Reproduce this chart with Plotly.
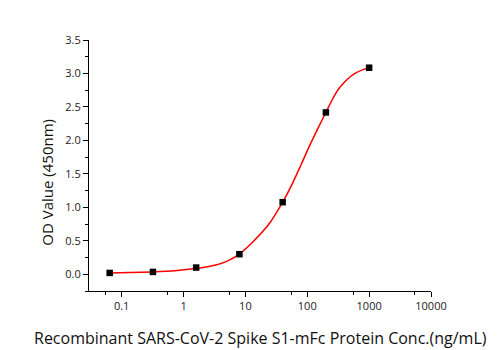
import plotly.graph_objects as go

# Data points (5-fold dilution series)
conc = [0.064, 0.32, 1.6, 8, 40, 200, 1000]
od = [0.02, 0.035, 0.10, 0.30, 1.077, 2.418, 3.086]

# Fitted curve
curve_x = [0.063, 0.136, 0.317, 0.726, 1.53, 2.67, 3.87, 5.61, 7.94, 13.4, 24.9, 40,
           56.2, 79.4, 112, 158, 200, 251, 316, 398, 501, 631, 794, 1000]
curve_y = [0.020, 0.026, 0.035, 0.052, 0.085, 0.120, 0.155, 0.215, 0.300, 0.490, 0.770, 1.077,
           1.336, 1.636, 1.944, 2.229, 2.418, 2.600, 2.760, 2.870, 2.955, 3.015, 3.058, 3.087]

x_ticks = [0.1, 1, 10, 100, 1000, 10000]
x_ticktext = ["0.1", "1", "10", "100", "1000", "10000"]
x_minor = [0.055, 0.55, 5.5, 55, 550, 5500]
y_ticks = [0.0, 0.5, 1.0, 1.5, 2.0, 2.5, 3.0, 3.5]
y_ticktext = ["0.0", "0.5", "1.0", "1.5", "2.0", "2.5", "3.0", "3.5"]
y_minor = [-0.25, 0.25, 0.75, 1.25, 1.75, 2.25, 2.75, 3.25]

fig = go.Figure()
fig.add_trace(go.Scatter(x=curve_x, y=curve_y, mode="lines",
                         line=dict(color="#ff0000", width=1.5, shape="spline", smoothing=0.8),
                         hoverinfo="skip"))
fig.add_trace(go.Scatter(x=conc, y=od, mode="markers",
                         marker=dict(symbol="square", size=6.5, color="#000000")))

font_family = "Open Sans, Noto Sans, sans-serif"

fig.update_layout(
    width=501, height=350,
    margin=dict(l=89, r=70, t=40, b=59),
    paper_bgcolor="white", plot_bgcolor="white",
    showlegend=False,
    font=dict(family=font_family, color="#222222"),
    xaxis=dict(type="log", range=[-1.528, 4.0],
               tickmode="array", tickvals=x_ticks, ticktext=x_ticktext,
               ticks="outside", ticklen=5, tickwidth=1, tickcolor="#000",
               showline=True, linecolor="#000", linewidth=1.2,
               showgrid=False, zeroline=False,
               tickfont=dict(size=11, color="#222"),
               minor=dict(tickmode="array", tickvals=x_minor, ticks="outside",
                          ticklen=3, tickcolor="#000", showgrid=False)),
    yaxis=dict(range=[-0.25, 3.5],
               tickmode="array", tickvals=y_ticks, ticktext=y_ticktext,
               ticks="outside", ticklen=5, tickwidth=1, tickcolor="#000",
               showline=True, linecolor="#000", linewidth=1.2,
               showgrid=False, zeroline=False,
               tickfont=dict(size=11, color="#222"),
               minor=dict(tickmode="array", tickvals=y_minor, ticks="outside",
                          ticklen=3, tickcolor="#000", showgrid=False)),
    annotations=[
        dict(text="OD Value (450nm)", xref="paper", yref="paper",
             x=-0.124, y=0.434, xanchor="center", yanchor="middle",
             textangle=-90, showarrow=False,
             font=dict(size=15, color="#111", family=font_family)),
        dict(text="Recombinant SARS-CoV-2 Spike S1-mFc Protein Conc.(ng/mL)",
             xref="paper", yref="paper", x=0.5, y=-0.187,
             xanchor="center", yanchor="middle", showarrow=False,
             font=dict(size=16, color="#111", family=font_family)),
    ],
)

fig.write_html("out.html")
